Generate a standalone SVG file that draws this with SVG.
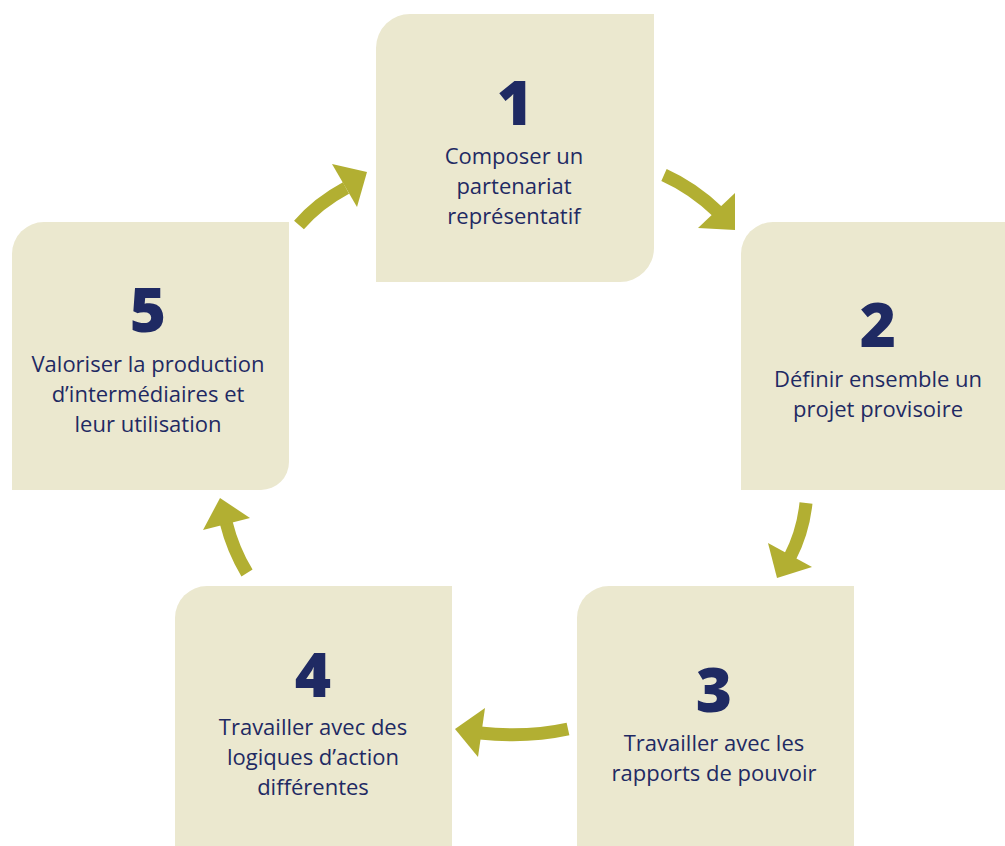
<svg xmlns="http://www.w3.org/2000/svg" width="1005" height="846" viewBox="0 0 1005 846">
<style>
.box{fill:#ebe8cf}
.num{font-family:"Open Sans","Liberation Sans",sans-serif;font-weight:800;font-size:62px;fill:#1f2a63;text-anchor:middle}
.lbl{font-family:"Open Sans","Liberation Sans",sans-serif;font-size:22px;fill:#1f2a63;text-anchor:middle}
.shaft{fill:none;stroke:#b2af32;stroke-width:13}
.head{fill:#b2af32}
</style>
<rect width="1005" height="846" fill="#ffffff"/>
<g id="node1">
<path class="box" d="M411,14 H654 V248 A34,34 0 0 1 620,282 H376 V48 A34,34 0 0 1 411,14 Z"/>
<text class="num" x="515" y="125">1</text>
<text class="lbl" x="514" y="164">Composer un</text>
<text class="lbl" x="514" y="194">partenariat</text>
<text class="lbl" x="514" y="224">représentatif</text>
</g>
<g id="node2">
<path class="box" d="M773,222 H1005 V490 H741 V254 A32,32 0 0 1 773,222 Z"/>
<text class="num" x="878" y="347">2</text>
<text class="lbl" x="878" y="387">Définir ensemble un</text>
<text class="lbl" x="878" y="417">projet provisoire</text>
</g>
<g id="node3">
<path class="box" d="M609,586 H854 V846 H577 V618 A32,32 0 0 1 609,586 Z"/>
<text class="num" x="714" y="712">3</text>
<text class="lbl" x="714" y="751">Travailler avec les</text>
<text class="lbl" x="714" y="781">rapports de pouvoir</text>
</g>
<g id="node4">
<path class="box" d="M207,586 H452 V846 H175 V618 A32,32 0 0 1 207,586 Z"/>
<text class="num" x="313" y="697">4</text>
<text class="lbl" x="313" y="735">Travailler avec des</text>
<text class="lbl" x="313" y="765">logiques d’action</text>
<text class="lbl" x="313" y="795">différentes</text>
</g>
<g id="node5">
<path class="box" d="M44,222 H289 V462 A28,28 0 0 1 261,490 H12 V254 A32,32 0 0 1 44,222 Z"/>
<text class="num" x="148" y="332">5</text>
<text class="lbl" x="148" y="372">Valoriser la production</text>
<text class="lbl" x="148" y="402">d’intermédiaires et</text>
<text class="lbl" x="148" y="432">leur utilisation</text>
</g>
<g id="connectors">
<path class="shaft" d="M299,225 Q318,203 346,188"/>
<polygon class="head" points="332,164 367,172 357,207"/>
<path class="shaft" d="M664,175 Q693,188 718,212"/>
<polygon class="head" points="735,193 735,230 698,228"/>
<path class="shaft" d="M806,503 Q803,532 790,557"/>
<polygon class="head" points="768,543 812,567 777,578"/>
<path class="shaft" d="M568,729 Q527,738 480,733"/>
<polygon class="head" points="485,708 455,729 478,757"/>
<path class="shaft" d="M247,573 Q233,550 226,522"/>
<polygon class="head" points="220,498 250,518 203,530"/>
</g>
</svg>
